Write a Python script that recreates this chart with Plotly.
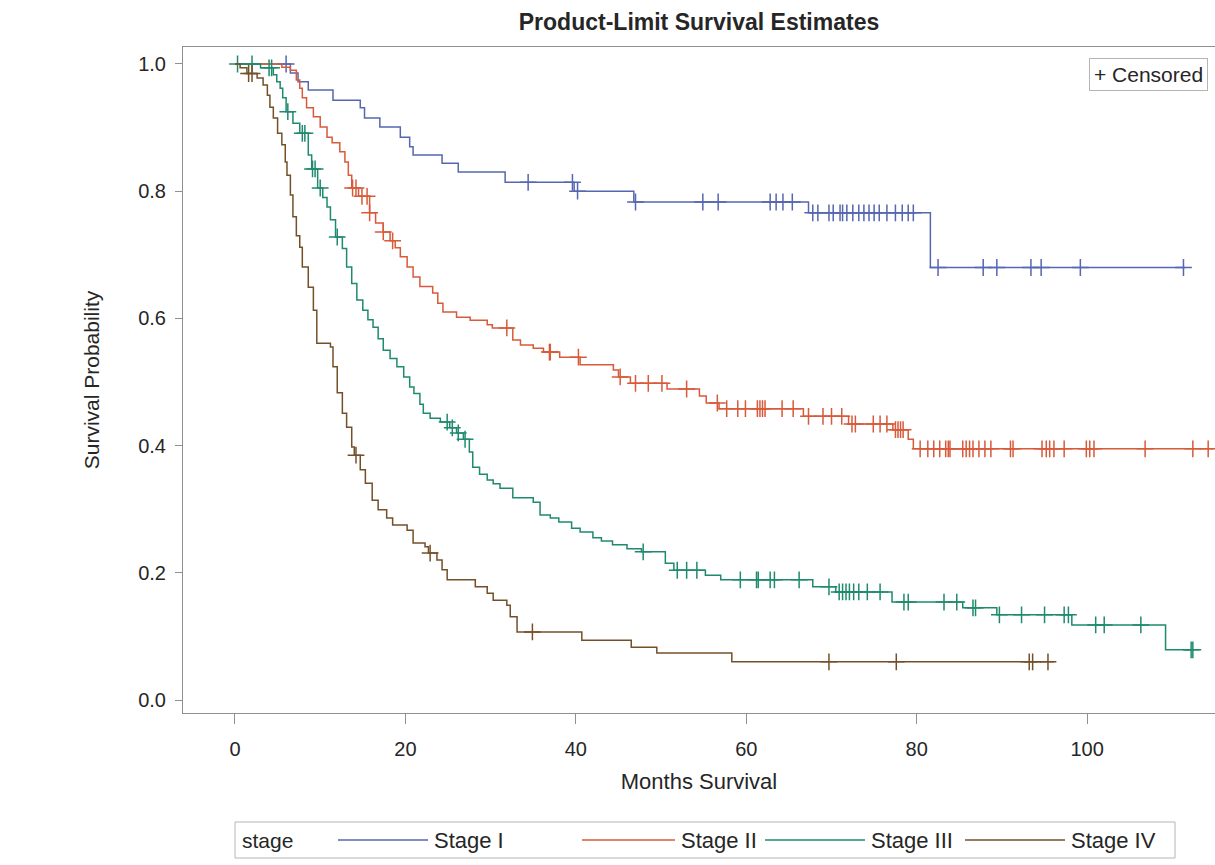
import numpy as np
import plotly.graph_objects as go

# ---------------- data ----------------
stages = ["Stage I", "Stage II", "Stage III", "Stage IV"]

# Stage I: step times / survival after step, censor times, last follow-up
t1 = [0, 6.5, 7.4, 8.6, 11.5, 14.7, 15.2, 17.0, 19.4, 20.5, 20.9, 24.3, 26.2, 31.7, 39.8, 46.8, 67.3, 81.6]
s1 = [1.0, 0.986, 0.972, 0.959, 0.943, 0.931, 0.915, 0.901, 0.885, 0.870, 0.857, 0.844, 0.830, 0.814, 0.800, 0.783, 0.766, 0.680]
c1 = [6.0, 34.4, 39.6, 40.2, 47.0, 54.9, 56.7, 62.8, 63.5, 64.3, 65.4, 67.8, 68.4, 69.7, 70.2, 71.0, 71.3,
      71.8, 72.5, 73.2, 73.8, 74.4, 75.0, 75.6, 76.5, 77.5, 78.3, 79.0, 79.6, 82.5, 87.8, 89.4, 93.4, 94.6,
      99.2, 111.3]
end1 = 111.5

# Stage II
t2 = [0, 5.5, 6.5, 7.2, 7.6, 7.9, 8.4, 9.2, 10.0, 10.8, 11.4, 12.3, 12.9, 13.3, 13.7, 14.5, 15.8, 16.5, 17.4,
      18.2, 18.8, 19.4, 20.2, 20.9, 21.7, 23.2, 23.8, 24.4, 26.0, 27.6, 29.6, 30.2, 32.6, 33.5, 35.0, 36.2,
      38.1, 40.5, 44.4, 45.0, 46.4, 50.7, 54.5, 55.3, 56.8, 66.7, 72.0, 77.2, 79.0, 79.6]
s2 = [1.0, 0.995, 0.990, 0.975, 0.962, 0.947, 0.931, 0.917, 0.901, 0.885, 0.876, 0.862, 0.846, 0.825, 0.805,
      0.792, 0.766, 0.750, 0.736, 0.722, 0.711, 0.697, 0.681, 0.665, 0.650, 0.640, 0.624, 0.610, 0.602, 0.597,
      0.590, 0.585, 0.566, 0.558, 0.553, 0.547, 0.539, 0.527, 0.519, 0.508, 0.498, 0.489, 0.478, 0.467, 0.458,
      0.446, 0.434, 0.425, 0.410, 0.395]
c2 = [13.8, 14.2, 14.9, 15.5, 15.8, 17.4, 18.5, 31.9, 36.9, 37.0, 40.3, 45.2, 47.0, 48.5, 50.1, 53.0, 56.6,
      57.7, 59.0, 59.9, 61.3, 61.6, 61.9, 62.2, 64.2, 65.5, 67.3, 69.0, 70.0, 71.2, 72.4, 72.8, 74.9, 75.7,
      76.5, 77.5, 77.8, 78.1, 78.4, 80.4, 81.3, 82.0, 82.7, 83.4, 83.7, 83.9, 85.4, 85.8, 86.2, 86.6, 87.3,
      88.0, 88.7, 91.0, 91.3, 94.7, 95.2, 95.6, 96.1, 97.3, 99.9, 100.3, 100.8, 106.8, 112.4, 114.2]
end2 = 114.8

# Stage III
t3 = [0, 3.0, 4.5, 4.9, 5.3, 5.6, 6.0, 6.8, 7.6, 8.6, 9.0, 9.7, 10.3, 10.8, 11.2, 11.8, 12.6, 13.1, 13.7,
      14.3, 15.0, 15.6, 16.2, 16.8, 17.4, 18.2, 19.0, 19.8, 20.5, 21.0, 21.7, 22.1, 22.9, 24.1, 25.2, 26.0,
      26.8, 27.5, 27.9, 28.7, 29.6, 30.3, 31.1, 32.6, 35.0, 35.8, 37.0, 38.0, 39.5, 40.5, 42.0, 43.0, 44.3,
      46.0, 47.7, 50.5, 51.5, 55.2, 57.0, 67.8, 70.5, 77.1, 85.4, 89.4, 98.2, 109.2]
s3 = [1.0, 0.994, 0.983, 0.972, 0.962, 0.947, 0.925, 0.907, 0.891, 0.857, 0.835, 0.805, 0.790, 0.775, 0.755,
      0.728, 0.710, 0.681, 0.655, 0.629, 0.613, 0.598, 0.586, 0.568, 0.550, 0.537, 0.524, 0.508, 0.492, 0.482,
      0.465, 0.451, 0.443, 0.437, 0.428, 0.420, 0.410, 0.390, 0.366, 0.355, 0.346, 0.340, 0.333, 0.318, 0.311,
      0.291, 0.286, 0.280, 0.270, 0.264, 0.255, 0.250, 0.244, 0.238, 0.233, 0.215, 0.204, 0.196, 0.189, 0.178,
      0.170, 0.154, 0.145, 0.134, 0.118, 0.079]
c3 = [0.3, 2.0, 4.0, 4.3, 6.2, 7.9, 8.2, 9.1, 9.4, 10.0, 12.0, 24.9, 25.5, 26.2, 27.0, 47.9, 51.9, 53.0, 54.2,
      59.3, 61.2, 61.4, 62.8, 63.3, 66.2, 69.7, 70.9, 71.3, 71.7, 72.1, 72.6, 73.2, 74.2, 75.7, 78.5, 79.0,
      83.2, 84.7, 86.6, 86.9, 89.7, 92.3, 95.0, 97.3, 97.8, 101.0, 102.0, 106.3, 112.2, 112.4]
end3 = 112.5

# Stage IV
t4 = [0, 0.6, 1.4, 2.6, 3.3, 3.8, 4.1, 4.5, 5.0, 5.5, 5.9, 6.1, 6.5, 6.8, 7.2, 7.6, 7.9, 8.6, 9.2, 9.6, 11.2,
      11.5, 12.0, 12.6, 13.1, 13.7, 14.0, 14.7, 15.3, 16.1, 16.8, 17.8, 18.5, 20.2, 20.9, 22.3, 22.7, 23.7,
      24.3, 24.9, 28.2, 29.6, 30.3, 31.9, 32.3, 33.1, 40.7, 46.5, 49.5, 58.3]
s4 = [1.0, 0.994, 0.985, 0.978, 0.967, 0.951, 0.932, 0.915, 0.891, 0.873, 0.846, 0.825, 0.794, 0.760, 0.730,
      0.712, 0.681, 0.649, 0.613, 0.561, 0.555, 0.524, 0.483, 0.451, 0.429, 0.398, 0.385, 0.362, 0.341, 0.314,
      0.299, 0.286, 0.275, 0.267, 0.247, 0.241, 0.231, 0.220, 0.205, 0.189, 0.178, 0.168, 0.157, 0.149, 0.131,
      0.107, 0.094, 0.083, 0.074, 0.060]
c4 = [1.6, 2.0, 14.2, 22.9, 34.9, 69.7, 77.6, 93.2, 93.6, 95.4]
end4 = 96.1

x_ticks = [0, 20, 40, 60, 80, 100]
y_ticks = [0.0, 0.2, 0.4, 0.6, 0.8, 1.0]

colors = ["#5666b0", "#d85a3a", "#1f8a6e", "#74502a"]
FONT = "Liberation Sans, Arial, sans-serif"
TXT = "#262626"

# plot-area geometry (pixels)
L, R, T, B = 183, 0, 47, 152
W, H = 1215, 865
PW, PH = W - L - R, H - T - B


def px_x(p):
    return (p - L) / PW


def px_y(p):
    return (H - B - p) / PH


fig = go.Figure()
series = [(t1, s1, c1, end1), (t2, s2, c2, end2), (t3, s3, c3, end3), (t4, s4, c4, end4)]
for name, col, (t, s, c, e) in zip(stages, colors, series):
    t = np.asarray(t, float)
    s = np.asarray(s, float)
    xs = np.append(t, e)
    ys = np.append(s, s[-1])
    fig.add_trace(go.Scatter(x=xs, y=ys, mode="lines", line=dict(color=col, width=1.5, shape="hv"),
                             name=name, legendgroup=name, showlegend=False))
    c = np.asarray(c, float)
    cy = s[np.searchsorted(t, c, side="right") - 1]
    fig.add_trace(go.Scatter(x=c, y=cy, mode="markers", name=name + " censored", legendgroup=name,
                             showlegend=False,
                             marker=dict(symbol="cross-thin", size=12, color=col,
                                         line=dict(color=col, width=1.5))))

axis_col = "#8f8f8f"
fig.update_layout(
    width=W, height=H,
    margin=dict(l=L, r=R, t=T, b=B),
    paper_bgcolor="white", plot_bgcolor="white",
    font=dict(family=FONT, size=20, color=TXT),
    title=dict(text="<b>Product-Limit Survival Estimates</b>", x=(L + PW / 2) / W, xanchor="center",
               y=1 - 22 / H, yanchor="middle", font=dict(family=FONT, size=23, color=TXT)),
    showlegend=False,
)
fig.update_xaxes(range=[-6.1, 115.0], tickvals=x_ticks, ticks="outside", ticklen=10, tickcolor=axis_col,
                 showline=True, linecolor=axis_col, linewidth=1, mirror=True, showgrid=False, zeroline=False,
                 ticklabelstandoff=8,
                 title=dict(text="Months Survival", standoff=14, font=dict(size=22)), tickfont=dict(size=20))
fig.update_yaxes(range=[-0.0204, 1.0267], tickvals=y_ticks, tickformat=".1f", ticks="outside", ticklen=7,
                 tickcolor=axis_col, showline=True, linecolor=axis_col, linewidth=1, mirror=False,
                 showgrid=False, zeroline=False, ticklabelstandoff=5,
                 title=dict(text="Survival Probability", standoff=32, font=dict(size=21)),
                 tickfont=dict(size=20))

# "+ Censored" key (top right)
fig.add_annotation(text="+ Censored", xref="paper", yref="paper", x=px_x(1208), y=px_y(58),
                   xanchor="right", yanchor="top", showarrow=False, font=dict(size=21, color=TXT),
                   bordercolor="#b5b5b5", borderwidth=1, borderpad=4, bgcolor="white")

# bottom legend (stage key)
fig.add_shape(type="rect", xref="paper", yref="paper", x0=px_x(235), x1=px_x(1175), y0=px_y(858), y1=px_y(822),
              line=dict(color="#b5b5b5", width=1), fillcolor="white", layer="above")
fig.add_annotation(text="stage", xref="paper", yref="paper", x=px_x(240), y=px_y(840), xanchor="left",
                   yanchor="middle", showarrow=False, font=dict(size=21, color=TXT))
leg_lines = [(338, 428), (582, 675), (765, 865), (965, 1065)]
for name, col, (a, b) in zip(stages, colors, leg_lines):
    fig.add_shape(type="line", xref="paper", yref="paper", x0=px_x(a), x1=px_x(b), y0=px_y(840), y1=px_y(840),
                  line=dict(color=col, width=1.5), layer="above")
    fig.add_annotation(text=name, xref="paper", yref="paper", x=px_x(b + 4), y=px_y(840), xanchor="left",
                       yanchor="middle", showarrow=False, font=dict(size=22, color=TXT))

fig.write_html("out.html")
